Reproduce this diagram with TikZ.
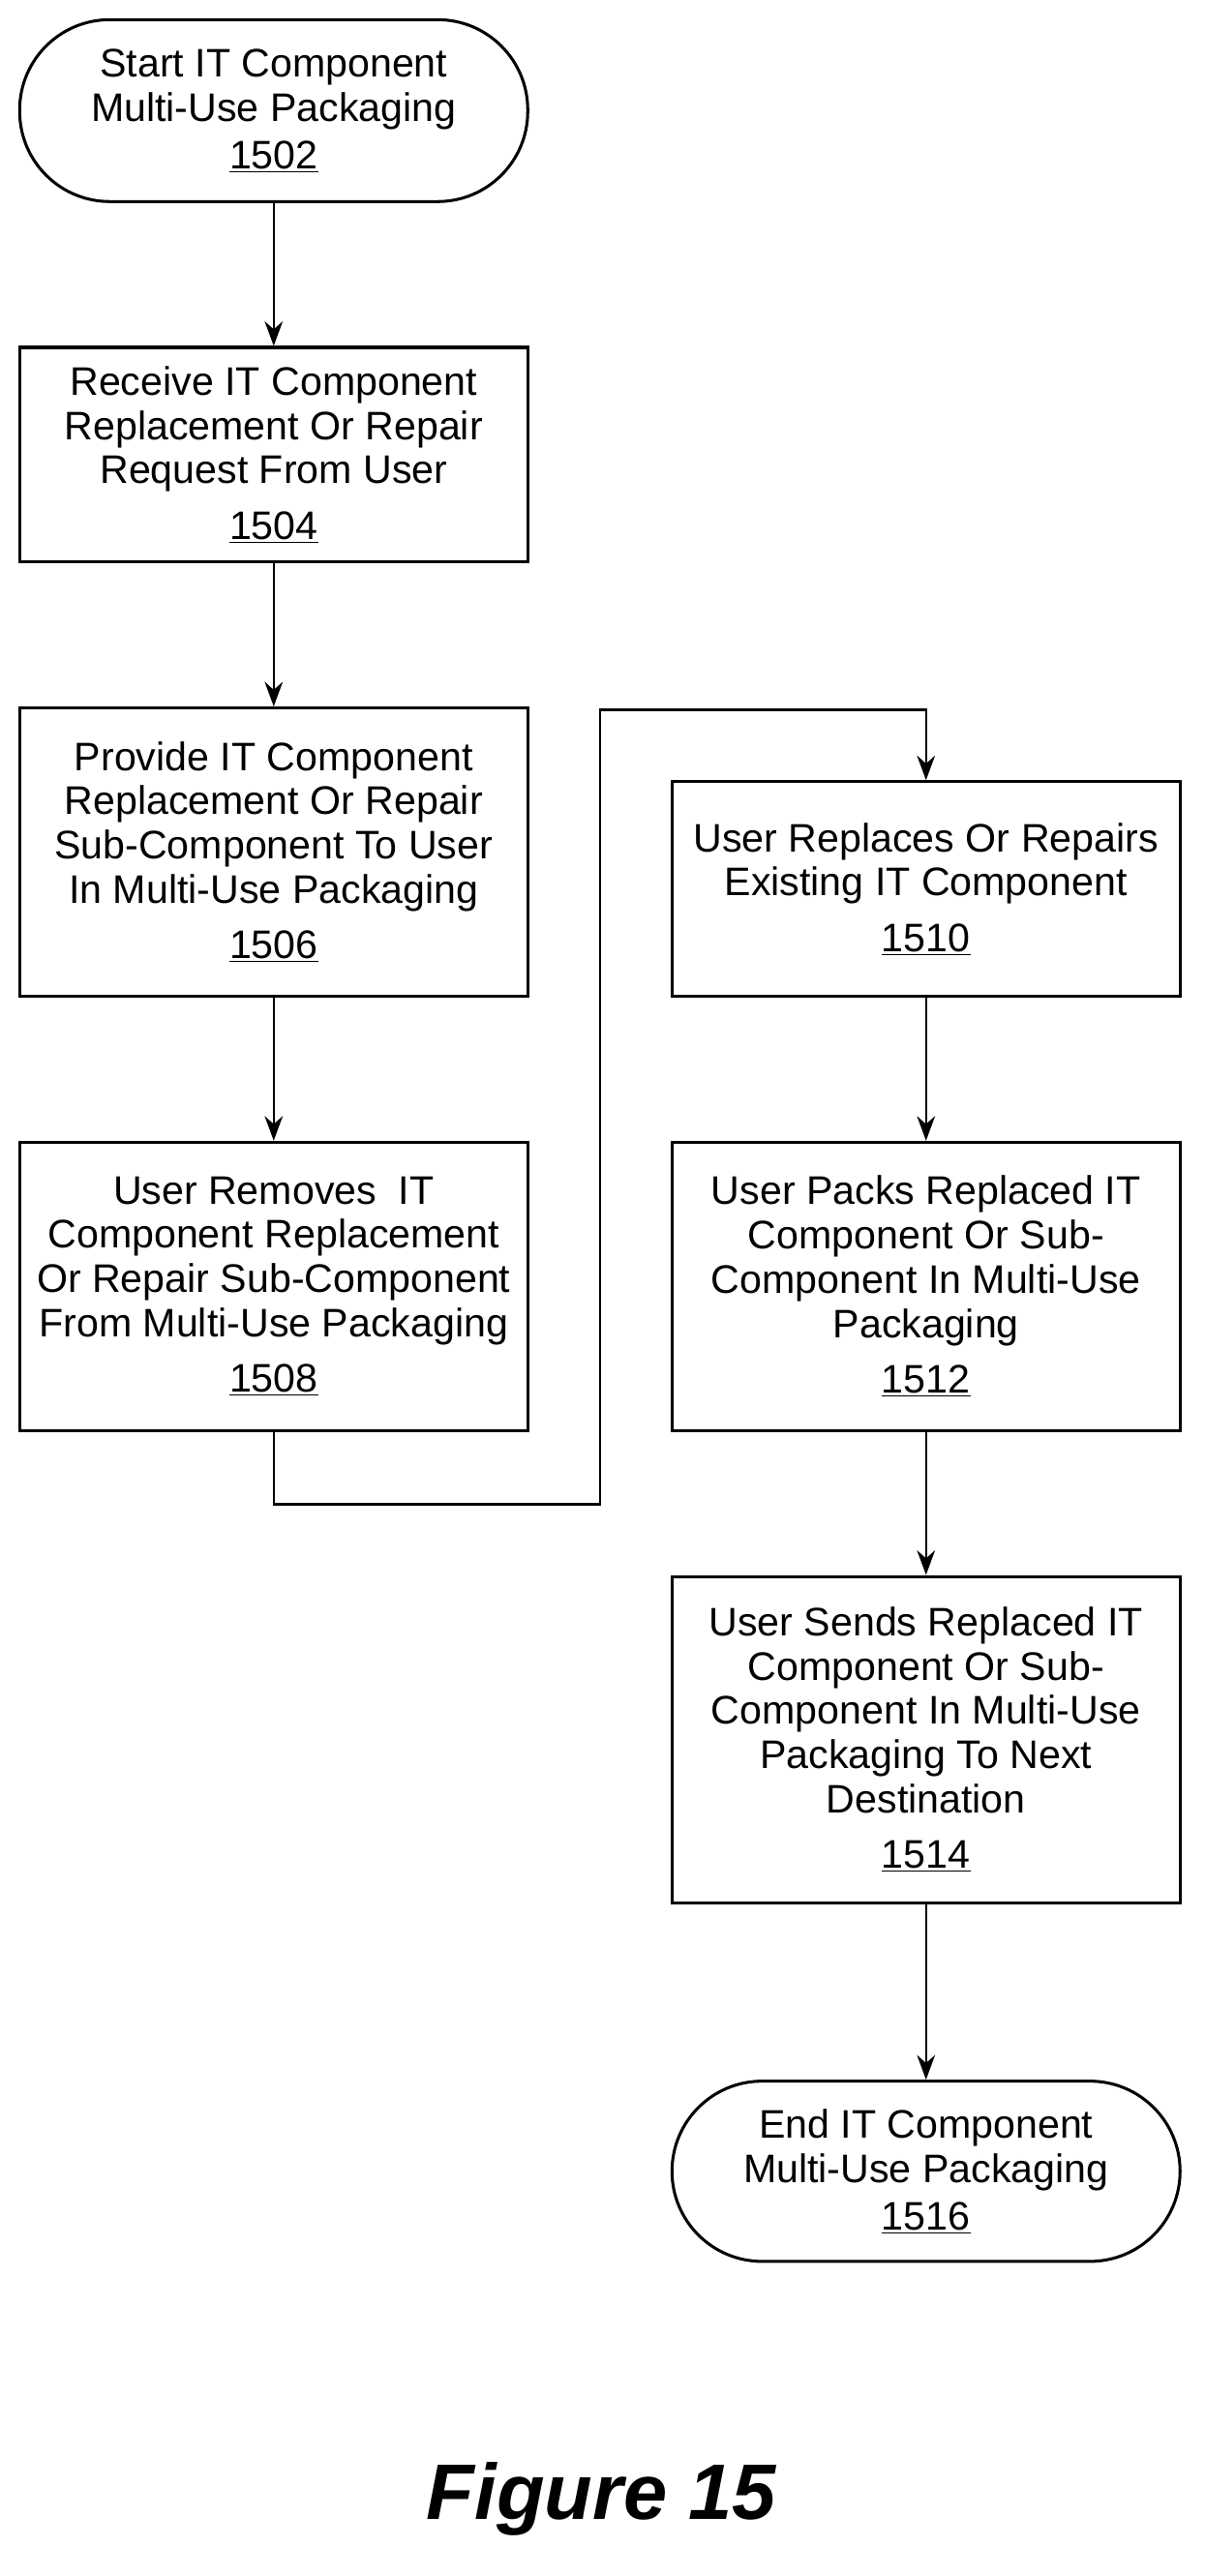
\documentclass[tikz,border=0pt]{standalone}
\usepackage{fontspec}
\setmainfont{Liberation Sans}
\usetikzlibrary{arrows.meta}
\begin{document}
\begin{tikzpicture}[x=1pt,y=-1pt,
  box/.style={draw,line width=1.8pt,rectangle,minimum width=310pt,align=center,font=\fontsize{24.3}{27}\selectfont,inner sep=0pt},
  term/.style={box,rounded corners=55pt},
  arr/.style={line width=1.5pt,-{Stealth[length=15pt,width=11pt]}}]
\useasboundingbox (0,0) rectangle (735,1572);
\node[term,minimum height=111pt] (s) at (167,67.5) {Start IT Component\\Multi-Use Packaging\\[2pt]\underline{1502}};
\node[box,minimum height=131pt] (b4) at (167,277.5) {Receive IT Component\\Replacement Or Repair\\Request From User\\[7pt]\underline{1504}};
\node[box,minimum height=176pt] (b6) at (167,520) {Provide IT Component\\Replacement Or Repair\\Sub-Component To User\\In Multi-Use Packaging\\[7pt]\underline{1506}};
\node[box,minimum height=176pt] (b8) at (167,785) {User Removes\ \ IT\\Component Replacement\\Or Repair Sub-Component\\From Multi-Use Packaging\\[7pt]\underline{1508}};
\node[box,minimum height=131pt] (b10) at (565,542.5) {User Replaces Or Repairs\\Existing IT Component\\[7pt]\underline{1510}};
\node[box,minimum height=176pt] (b12) at (565,785) {User Packs Replaced IT\\Component Or Sub-\\Component In Multi-Use\\Packaging\\[7pt]\underline{1512}};
\node[box,minimum height=199pt] (b14) at (565,1061.5) {User Sends Replaced IT\\Component Or Sub-\\Component In Multi-Use\\Packaging To Next\\Destination\\[7pt]\underline{1514}};
\node[term,minimum height=110pt] (e) at (565,1325) {End IT Component\\Multi-Use Packaging\\[2pt]\underline{1516}};
\draw[arr] (s) -- (b4);
\draw[arr] (b4) -- (b6);
\draw[arr] (b6) -- (b8);
\draw[arr] (b8.south) -- ++(0,44) -| (366,433) -| (b10.north);
\draw[arr] (b10) -- (b12);
\draw[arr] (b12) -- (b14);
\draw[arr] (b14) -- (e);
\node[font=\fontsize{48}{56}\selectfont\bfseries\itshape] (fig) at (367,1525) {Figure 15};
\end{tikzpicture}
\end{document}
